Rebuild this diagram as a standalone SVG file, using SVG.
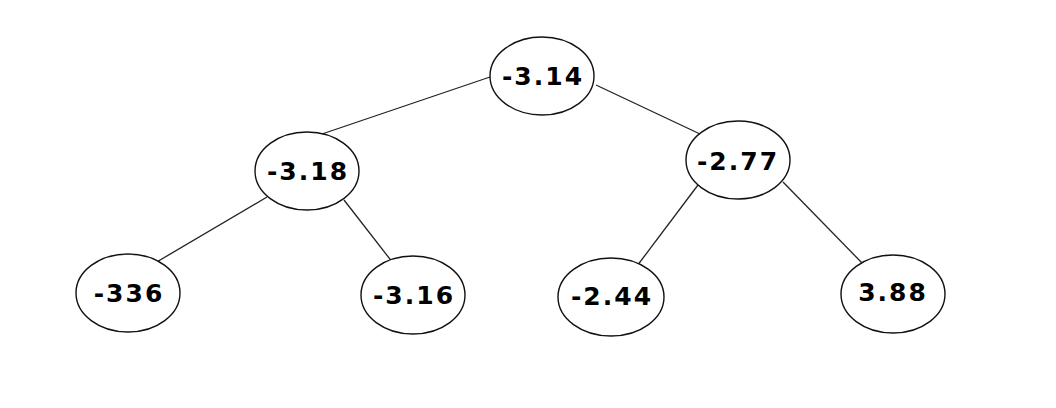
<svg xmlns="http://www.w3.org/2000/svg" width="1056" height="408" viewBox="0 0 1056 408">
<style>
.n ellipse{fill:#fff;stroke:#111;stroke-width:1.4}
.n text{font-family:"DejaVu Sans",Verdana,sans-serif;font-weight:bold;font-size:25px;letter-spacing:2px;text-anchor:middle;fill:#000}
.e line{stroke:#222;stroke-width:1.3}
</style>
<rect width="1056" height="408" fill="#fff"/>
<g id="connectors" class="e">
<line x1="490" y1="77" x2="322" y2="134"/>
<line x1="596" y1="85" x2="700" y2="134"/>
<line x1="267" y1="197" x2="155" y2="263"/>
<line x1="344" y1="200" x2="393" y2="263"/>
<line x1="698" y1="185" x2="637" y2="266"/>
<line x1="783" y1="182" x2="864" y2="265"/>
</g>
<g id="n1" class="n"><ellipse cx="542" cy="76" rx="52" ry="39"/><text x="543" y="85">-3.14</text></g>
<g id="n2" class="n"><ellipse cx="307" cy="171" rx="52" ry="39"/><text x="308" y="180">-3.18</text></g>
<g id="n3" class="n"><ellipse cx="738" cy="160" rx="52" ry="39"/><text x="738" y="170">-2.77</text></g>
<g id="n4" class="n"><ellipse cx="128" cy="293" rx="52" ry="39"/><text x="129" y="302">-336</text></g>
<g id="n5" class="n"><ellipse cx="413" cy="295" rx="52" ry="39"/><text x="414" y="304">-3.16</text></g>
<g id="n6" class="n"><ellipse cx="611" cy="297" rx="53" ry="39"/><text x="612" y="305">-2.44</text></g>
<g id="n7" class="n"><ellipse cx="893" cy="294" rx="52" ry="39"/><text x="893" y="301">3.88</text></g>
</svg>
